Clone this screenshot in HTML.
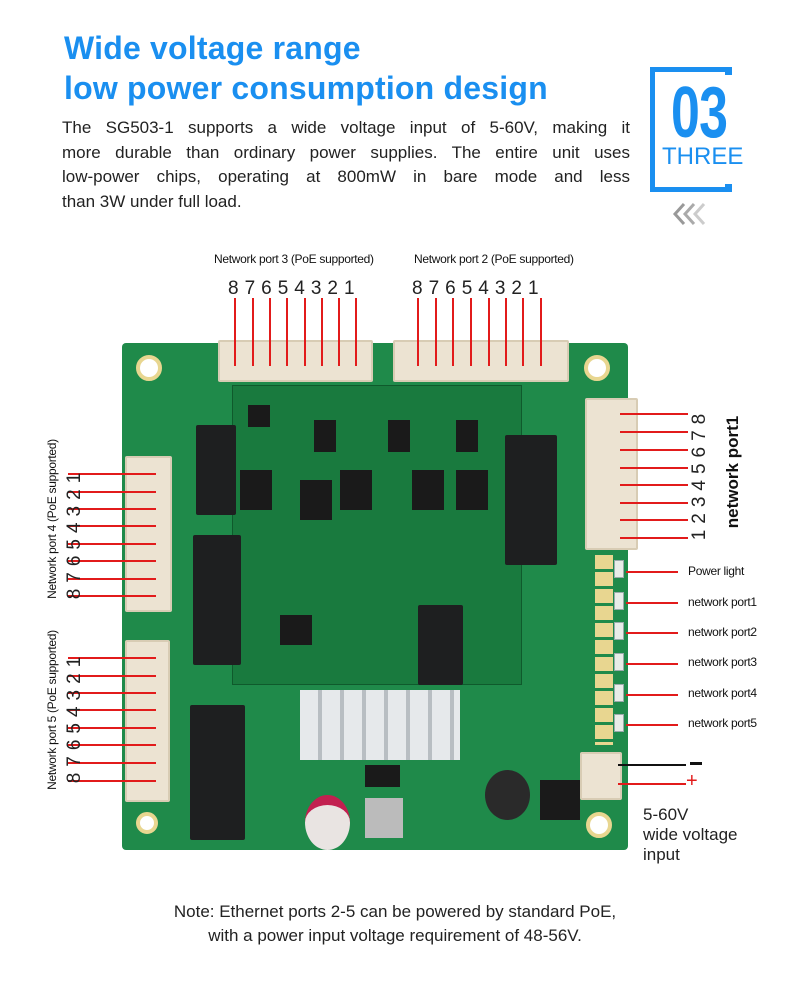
<!DOCTYPE html>
<html><head><meta charset="utf-8"><style>
*{margin:0;padding:0;box-sizing:border-box}
body{width:790px;height:994px;background:#fff;position:relative;overflow:hidden;font-family:"Liberation Sans",sans-serif}
.a{position:absolute}
.h{color:#1a8ff0;font-weight:bold;font-size:32px;left:64px;letter-spacing:0.2px}
.pl{position:absolute;left:62px;width:568px;font-size:17px;color:#222;text-align:justify;text-align-last:justify;white-space:nowrap}
.rl{position:absolute;background:#e21b1b}
.lbl{position:absolute;font-size:12px;color:#111;white-space:nowrap;letter-spacing:-0.3px}
.dig{position:absolute;font-size:19px;color:#222;letter-spacing:6px;white-space:nowrap}
.con{position:absolute;background:#ece3d2;border:2px solid #d8ccb4;border-radius:2px}
.chip{position:absolute;background:#1e1f20;border-radius:2px}
.sm{position:absolute;background:#1a1a1a}
.led{position:absolute;background:#e8ece8;border:1px solid #9aa}
.hole{position:absolute;width:26px;height:26px;border-radius:50%;background:#fff;border:4px solid #e8d690}
</style></head><body>
<div class="a h" style="top:30px">Wide voltage range</div>
<div class="a h" style="top:70px">low power consumption design</div>
<div class="pl" style="top:118px">The SG503-1 supports a wide voltage input of 5-60V, making it</div>
<div class="pl" style="top:143px">more durable than ordinary power supplies. The entire unit uses</div>
<div class="pl" style="top:167px">low-power chips, operating at 800mW in bare mode and less</div>
<div class="a" style="left:62px;top:192px;font-size:17px;color:#222">than 3W under full load.</div>
<div class="a" style="left:650px;top:67px;width:82px;height:125px;border:5px solid #1a8ff0;border-right:none"></div>
<div class="a" style="left:725px;top:67px;width:7px;height:8px;background:#1a8ff0"></div>
<div class="a" style="left:725px;top:184px;width:7px;height:8px;background:#1a8ff0"></div>
<div class="a" style="left:671px;top:72px;font-size:72px;font-weight:bold;color:#1a8ff0;transform:scaleX(0.72);transform-origin:left;letter-spacing:-1px">03</div>
<div class="a" style="left:662px;top:143px;font-size:24px;color:#1a8ff0">THREE</div>
<svg class="a" style="left:672px;top:202px" width="40" height="24"><g fill="none" stroke-width="3"><path d="M12 2 L3 12 L12 22" stroke="#999"/><path d="M22 2 L13 12 L22 22" stroke="#aaa"/><path d="M32 2 L23 12 L32 22" stroke="#ccc"/></g></svg>

<!-- board -->
<div class="a" style="left:122px;top:343px;width:506px;height:507px;background:#1f8a4a;border-radius:4px"></div>
<div class="hole" style="left:136px;top:355px"></div>
<div class="hole" style="left:584px;top:355px"></div>
<div class="hole" style="left:136px;top:812px;width:22px;height:22px"></div>
<div class="hole" style="left:586px;top:812px"></div>
<div class="a" style="left:232px;top:385px;width:290px;height:300px;background:#197a3e;border:1px solid #0f5a2c"></div>
<div class="a" style="left:300px;top:690px;width:160px;height:70px;background:repeating-linear-gradient(90deg,#e6e9eb 0 18px,#b8bec2 18px 22px)"></div>
<div class="chip" style="left:196px;top:425px;width:40px;height:90px"></div>
<div class="chip" style="left:193px;top:535px;width:48px;height:130px"></div>
<div class="chip" style="left:190px;top:705px;width:55px;height:135px"></div>
<div class="chip" style="left:505px;top:435px;width:52px;height:130px"></div>
<div class="chip" style="left:418px;top:605px;width:45px;height:80px"></div>
<div class="sm" style="left:248px;top:405px;width:22px;height:22px"></div>
<div class="sm" style="left:314px;top:420px;width:22px;height:32px"></div>
<div class="sm" style="left:388px;top:420px;width:22px;height:32px"></div>
<div class="sm" style="left:456px;top:420px;width:22px;height:32px"></div>
<div class="sm" style="left:240px;top:470px;width:32px;height:40px"></div>
<div class="sm" style="left:300px;top:480px;width:32px;height:40px"></div>
<div class="sm" style="left:340px;top:470px;width:32px;height:40px"></div>
<div class="sm" style="left:412px;top:470px;width:32px;height:40px"></div>
<div class="sm" style="left:456px;top:470px;width:32px;height:40px"></div>
<div class="sm" style="left:280px;top:615px;width:32px;height:30px"></div>
<div class="a" style="left:485px;top:770px;width:45px;height:50px;border-radius:50%;background:#2a2a2a"></div>
<div class="sm" style="left:365px;top:765px;width:35px;height:22px"></div>
<div class="sm" style="left:540px;top:780px;width:40px;height:40px"></div>
<div class="a" style="left:305px;top:795px;width:45px;height:55px;border-radius:50%;background:#e9e4e2;border-top:10px solid #c22050"></div>
<div class="a" style="left:365px;top:798px;width:38px;height:40px;background:#bbb"></div>
<div class="con" style="left:218px;top:340px;width:155px;height:42px"></div>
<div class="con" style="left:393px;top:340px;width:176px;height:42px"></div>
<div class="con" style="left:585px;top:398px;width:53px;height:152px"></div>
<div class="con" style="left:125px;top:456px;width:47px;height:156px"></div>
<div class="con" style="left:125px;top:640px;width:45px;height:162px"></div>
<div class="con" style="left:580px;top:752px;width:42px;height:48px"></div>
<div class="a" style="left:595px;top:555px;width:18px;height:190px;background:repeating-linear-gradient(#e8d690 0 14px,#1f8a4a 14px 17px)"></div>
<div class="led" style="left:614px;top:560px;width:10px;height:18px"></div>
<div class="led" style="left:614px;top:592px;width:10px;height:18px"></div>
<div class="led" style="left:614px;top:622px;width:10px;height:18px"></div>
<div class="led" style="left:614px;top:653px;width:10px;height:18px"></div>
<div class="led" style="left:614px;top:684px;width:10px;height:18px"></div>
<div class="led" style="left:614px;top:714px;width:10px;height:18px"></div>

<!-- top labels -->
<div class="lbl" style="left:214px;top:252px">Network port 3 (PoE supported)</div>
<div class="lbl" style="left:414px;top:252px">Network port 2 (PoE supported)</div>
<div class="dig" style="left:228px;top:278px">87654321</div>
<div class="dig" style="left:412px;top:278px">87654321</div>
<div class="rl" style="left:234px;top:298px;width:1.5px;height:68px"></div>
<div class="rl" style="left:252px;top:298px;width:1.5px;height:68px"></div>
<div class="rl" style="left:269px;top:298px;width:1.5px;height:68px"></div>
<div class="rl" style="left:286px;top:298px;width:1.5px;height:68px"></div>
<div class="rl" style="left:304px;top:298px;width:1.5px;height:68px"></div>
<div class="rl" style="left:321px;top:298px;width:1.5px;height:68px"></div>
<div class="rl" style="left:338px;top:298px;width:1.5px;height:68px"></div>
<div class="rl" style="left:355px;top:298px;width:1.5px;height:68px"></div>
<div class="rl" style="left:417px;top:298px;width:1.5px;height:68px"></div>
<div class="rl" style="left:435px;top:298px;width:1.5px;height:68px"></div>
<div class="rl" style="left:452px;top:298px;width:1.5px;height:68px"></div>
<div class="rl" style="left:470px;top:298px;width:1.5px;height:68px"></div>
<div class="rl" style="left:488px;top:298px;width:1.5px;height:68px"></div>
<div class="rl" style="left:505px;top:298px;width:1.5px;height:68px"></div>
<div class="rl" style="left:522px;top:298px;width:1.5px;height:68px"></div>
<div class="rl" style="left:540px;top:298px;width:1.5px;height:68px"></div>

<!-- right port1 -->
<div class="rl" style="left:620px;top:413px;width:68px;height:1.5px"></div>
<div class="rl" style="left:620px;top:431px;width:68px;height:1.5px"></div>
<div class="rl" style="left:620px;top:449px;width:68px;height:1.5px"></div>
<div class="rl" style="left:620px;top:467px;width:68px;height:1.5px"></div>
<div class="rl" style="left:620px;top:484px;width:68px;height:1.5px"></div>
<div class="rl" style="left:620px;top:502px;width:68px;height:1.5px"></div>
<div class="rl" style="left:620px;top:519px;width:68px;height:1.5px"></div>
<div class="rl" style="left:620px;top:537px;width:68px;height:1.5px"></div>
<div class="dig" style="left:620px;top:463px;width:160px;text-align:center;transform:rotate(-90deg)">12345678</div>
<div class="a" style="left:668px;top:462px;width:130px;text-align:center;font-size:17px;font-weight:bold;color:#111;transform:rotate(-90deg)">network port1</div>

<!-- left port4/5 -->
<div class="rl" style="left:68px;top:473px;width:88px;height:1.5px"></div>
<div class="rl" style="left:68px;top:491px;width:88px;height:1.5px"></div>
<div class="rl" style="left:68px;top:508px;width:88px;height:1.5px"></div>
<div class="rl" style="left:68px;top:525px;width:88px;height:1.5px"></div>
<div class="rl" style="left:68px;top:543px;width:88px;height:1.5px"></div>
<div class="rl" style="left:68px;top:560px;width:88px;height:1.5px"></div>
<div class="rl" style="left:68px;top:578px;width:88px;height:1.5px"></div>
<div class="rl" style="left:68px;top:595px;width:88px;height:1.5px"></div>
<div class="rl" style="left:68px;top:657px;width:88px;height:1.5px"></div>
<div class="rl" style="left:68px;top:675px;width:88px;height:1.5px"></div>
<div class="rl" style="left:68px;top:692px;width:88px;height:1.5px"></div>
<div class="rl" style="left:68px;top:709px;width:88px;height:1.5px"></div>
<div class="rl" style="left:68px;top:727px;width:88px;height:1.5px"></div>
<div class="rl" style="left:68px;top:744px;width:88px;height:1.5px"></div>
<div class="rl" style="left:68px;top:762px;width:88px;height:1.5px"></div>
<div class="rl" style="left:68px;top:780px;width:88px;height:1.5px"></div>
<div class="dig" style="left:-5px;top:522px;width:160px;text-align:center;transform:rotate(-90deg)">87654321</div>
<div class="dig" style="left:-5px;top:706px;width:160px;text-align:center;transform:rotate(-90deg)">87654321</div>
<div class="lbl" style="left:-28px;top:512px;width:160px;text-align:center;transform:rotate(-90deg)">Network port 4 (PoE supported)</div>
<div class="lbl" style="left:-28px;top:703px;width:160px;text-align:center;transform:rotate(-90deg)">Network port 5 (PoE supported)</div>

<!-- LED labels -->
<div class="rl" style="left:626px;top:571px;width:52px;height:1.5px"></div>
<div class="rl" style="left:626px;top:602px;width:52px;height:1.5px"></div>
<div class="rl" style="left:626px;top:632px;width:52px;height:1.5px"></div>
<div class="rl" style="left:626px;top:663px;width:52px;height:1.5px"></div>
<div class="rl" style="left:626px;top:694px;width:52px;height:1.5px"></div>
<div class="rl" style="left:626px;top:724px;width:52px;height:1.5px"></div>
<div class="lbl" style="left:688px;top:564px">Power light</div>
<div class="lbl" style="left:688px;top:595px">network port1</div>
<div class="lbl" style="left:688px;top:625px">network port2</div>
<div class="lbl" style="left:688px;top:655px">network port3</div>
<div class="lbl" style="left:688px;top:686px">network port4</div>
<div class="lbl" style="left:688px;top:716px">network port5</div>
<div class="a" style="left:618px;top:764px;width:68px;height:1.5px;background:#111"></div>
<div class="a" style="left:690px;top:762px;width:12px;height:2.5px;background:#111"></div>
<div class="rl" style="left:618px;top:783px;width:68px;height:1.5px"></div>
<div class="a" style="left:686px;top:770px;font-size:20px;color:#e21b1b">+</div>
<div class="a" style="left:643px;top:805px;font-size:17px;line-height:20px;color:#222">5-60V<br>wide voltage<br>input</div>

<div class="a" style="left:0;top:900px;width:790px;text-align:center;font-size:17px;line-height:24px;color:#222">Note: Ethernet ports 2-5 can be powered by standard PoE,<br>with a power input voltage requirement of 48-56V.</div>
</body></html>
